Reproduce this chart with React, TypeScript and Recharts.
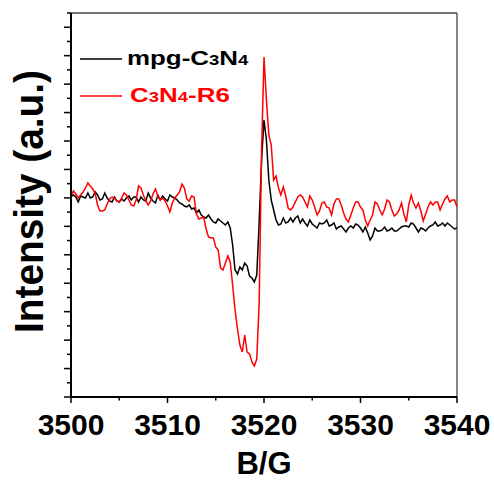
import React from 'react';
import { LineChart, Line, XAxis, YAxis, Legend, ReferenceLine } from 'recharts';

// Magnetic field (G)
const fieldG = [
  3500, 3500.25, 3500.5, 3500.75, 3501, 3501.25, 3501.5, 3501.75, 3502, 3502.25,
  3502.5, 3502.75, 3503, 3503.25, 3503.5, 3503.75, 3504, 3504.25, 3504.5, 3504.75,
  3505, 3505.25, 3505.5, 3505.75, 3506, 3506.25, 3506.5, 3506.75, 3507, 3507.25,
  3507.5, 3507.75, 3508, 3508.25, 3508.5, 3508.75, 3509, 3509.25, 3509.5, 3509.75,
  3510, 3510.25, 3510.5, 3510.75, 3511, 3511.25, 3511.5, 3511.75, 3512, 3512.25,
  3512.5, 3512.75, 3513, 3513.25, 3513.5, 3513.75, 3514, 3514.25, 3514.5, 3514.75,
  3515, 3515.25, 3515.5, 3515.75, 3516, 3516.25, 3516.5, 3516.75, 3517, 3517.25,
  3517.5, 3517.75, 3518, 3518.25, 3518.5, 3518.75, 3519, 3519.25, 3519.5, 3519.75,
  3520, 3520.25, 3520.5, 3520.75, 3521, 3521.25, 3521.5, 3521.75, 3522, 3522.25,
  3522.5, 3522.75, 3523, 3523.25, 3523.5, 3523.75, 3524, 3524.25, 3524.5, 3524.75,
  3525, 3525.25, 3525.5, 3525.75, 3526, 3526.25, 3526.5, 3526.75, 3527, 3527.25,
  3527.5, 3527.75, 3528, 3528.25, 3528.5, 3528.75, 3529, 3529.25, 3529.5, 3529.75,
  3530, 3530.25, 3530.5, 3530.75, 3531, 3531.25, 3531.5, 3531.75, 3532, 3532.25,
  3532.5, 3532.75, 3533, 3533.25, 3533.5, 3533.75, 3534, 3534.25, 3534.5, 3534.75,
  3535, 3535.25, 3535.5, 3535.75, 3536, 3536.25, 3536.5, 3536.75, 3537, 3537.25,
  3537.5, 3537.75, 3538, 3538.25, 3538.5, 3538.75, 3539, 3539.25, 3539.5, 3539.75,
  3540,
];

// mpg-C3N4 intensity (a.u.)
const mpgC3N4 = [
  0, 2, 0, -5, 1, 0, -1, 4, -1, 0,
  5, 2, -3, -2, 4, -1, -4, -5, 0, -4,
  -5, -2, -4, -1, 1, -3, 0, 0, -5, 0,
  -3, -4, 4, -1, -4, -6, 2, -3, 1, -2,
  -4, 2, 0, -1, -3, -6, -7, -9, -10, -8,
  -12, -11, -16, -13, -18, -20, -21, -18, -22, -25,
  -26, -22, -24, -26, -28, -25, -31, -48, -73, -77,
  -70, -73, -66, -69, -79, -81, -85, -78, -25, 37,
  77, 57, 17, -3, -13, -23, -28, -27, -21, -26,
  -25, -21, -25, -21, -19, -26, -22, -26, -29, -23,
  -27, -29, -31, -26, -27, -26, -23, -29, -28, -26,
  -32, -30, -29, -32, -35, -31, -29, -31, -27, -28,
  -31, -35, -30, -36, -43, -39, -31, -34, -34, -33,
  -30, -34, -33, -31, -34, -34, -32, -30, -29, -29,
  -30, -26, -27, -31, -35, -31, -32, -34, -31, -29,
  -28, -25, -29, -28, -26, -29, -26, -28, -30, -32,
  -31,
];

// C3N4-R6 intensity (a.u.)
const c3n4R6 = [
  0, 6, 3, -1, 2, 5, 9, 14, 11, 8,
  4, -8, -14, -14, -13, -7, -2, 0, -1, -4,
  -5, -1, 4, 2, -3, -8, -9, -3, 11, 9,
  2, -4, -8, -4, 3, 8, 1, -3, -1, -4,
  -9, -15, -6, -1, 2, 5, 13, 9, -2, -4,
  1, 0, -17, -22, -21, -20, -32, -40, -41, -41,
  -50, -53, -71, -73, -66, -59, -65, -88, -113, -132,
  -148, -155, -138, -155, -157, -165, -169, -162, -105, 47,
  140, 97, 62, 52, 17, 21, 9, 2, 10, 1,
  -11, -13, -10, -5, 0, 2, 0, -5, -10, 1,
  -3, -10, -18, -14, -6, -5, -10, -11, -18, -7,
  -2, -2, -8, -16, -22, -25, -18, -11, -5, -5,
  -10, -13, -23, -29, -23, -18, -5, -7, -13, -18,
  -12, -3, -5, -13, -19, -17, -13, -6, -17, -25,
  -8, 2, -6, -11, -6, -14, -24, -17, -10, -5,
  -8, -5, -5, -13, -7, -2, 1, -5, -3, -3,
  -10,
];

const xTicks = [3500, 3505, 3510, 3515, 3520, 3525, 3530, 3535, 3540];
const xMajorTicks = [3500, 3510, 3520, 3530, 3540];
const yMin = -200;
const yMax = 184;
const yTickIntervals = 27;
const yTicks = Array.from({ length: yTickIntervals + 1 }, (_, k) => yMin + (k * (yMax - yMin)) / yTickIntervals);

const seriesNames = ['mpg-C3N4', 'C3N4-R6'];

const data = fieldG.map((b, i) => ({ B: b, mpg: mpgC3N4[i], r6: c3n4R6[i] }));

const FONT = '"Liberation Sans", Arial, Helvetica, sans-serif';

const XTick = (props: any) => {
  const { x, y, payload } = props;
  const major = xMajorTicks.includes(payload.value);
  return (
    <g>
      <line x1={x} x2={x} y1={y} y2={y + (major ? 6 : 3.5)} stroke="#000" strokeWidth={1.5} />
      {major && (
        <text x={x} y={y + 38} textAnchor="middle" fontFamily={FONT} fontWeight="bold" fontSize={30} fill="#000">
          {payload.value}
        </text>
      )}
    </g>
  );
};

const YTick = (props: any) => {
  const { x, y, payload } = props;
  const k = Math.round(((payload.value - yMin) * yTickIntervals) / (yMax - yMin));
  const major = k % 2 === 0;
  return <line x1={x} x2={x - (major ? 7 : 4)} y1={y} y2={y} stroke="#000" strokeWidth={1.5} />;
};

const XLabel = (props: any) => {
  const vb = props.viewBox || { x: 71, y: 397, width: 386, height: 70 };
  const cx = vb.x + vb.width / 2;
  return (
    <text x={cx} y={vb.y + 77} textAnchor="middle" fontFamily={FONT} fontWeight="bold" fontSize={31} fill="#000">
      B/G
    </text>
  );
};

const YLabel = (props: any) => {
  const vb = props.viewBox || { x: 11, y: 13, width: 60, height: 384 };
  const cx = vb.x + vb.width - 28;
  const cy = vb.y + vb.height / 2 - 3.5;
  return (
    <text
      x={cx}
      y={cy}
      transform={`rotate(-90, ${cx}, ${cy})`}
      textAnchor="middle"
      fontFamily={FONT}
      fontWeight="bold"
      fontSize={40}
      textLength={263}
      lengthAdjust="spacingAndGlyphs"
      fill="#000"
    >
      Intensity (a.u.)
    </text>
  );
};

const renderLegend = () => (
  <svg width={494} height={120} style={{ display: 'block' }}>
    <line x1={80} x2={122} y1={59} y2={59} stroke="#000" strokeWidth={1.5} />
    <g transform="translate(127,65) scale(1.235,1)">
      <text fontFamily={FONT} fontWeight="bold" fontSize={21} fill="#000">
        mpg-C<tspan fontSize={15}>3</tspan>N<tspan fontSize={15}>4</tspan>
      </text>
    </g>
    <line x1={80} x2={122} y1={96} y2={96} stroke="#ff0000" strokeWidth={1.5} />
    <g transform="translate(130,102) scale(1.235,1)">
      <text fontFamily={FONT} fontWeight="bold" fontSize={21} fill="#ff0000">
        C<tspan fontSize={15}>3</tspan>N<tspan fontSize={15}>4</tspan>-R6
      </text>
    </g>
  </svg>
);

export default function App() {
  return (
    <div style={{ position: 'absolute', left: 0, top: 0, width: 494, height: 481, background: '#fff' }}>
      <LineChart width={494} height={481} data={data} margin={{ top: 13, right: 37, bottom: 14, left: 11 }}>
        <XAxis
          xAxisId="main"
          dataKey="B"
          type="number"
          domain={[3500, 3540]}
          ticks={xTicks}
          interval={0}
          allowDataOverflow
          height={70}
          tickSize={0}
          tickMargin={0}
          tickLine={false}
          tick={XTick}
          axisLine={{ stroke: '#000', strokeWidth: 2 }}
          label={{ content: XLabel }}
        />
        <YAxis
          yAxisId="main"
          type="number"
          domain={[yMin, yMax]}
          ticks={yTicks}
          interval={0}
          allowDataOverflow
          width={60}
          tickSize={0}
          tickMargin={0}
          tickLine={false}
          tick={YTick}
          axisLine={{ stroke: '#000', strokeWidth: 2 }}
          label={{ content: YLabel }}
        />
        <ReferenceLine xAxisId="main" yAxisId="main" y={yMax} stroke="#444" strokeWidth={1.3} ifOverflow="visible" />
        <ReferenceLine xAxisId="main" yAxisId="main" x={3540} stroke="#444" strokeWidth={1.3} ifOverflow="visible" />
        <Line
          xAxisId="main"
          yAxisId="main"
          type="linear"
          dataKey="mpg"
          name={seriesNames[0]}
          stroke="#000"
          strokeWidth={1.5}
          dot={false}
          isAnimationActive={false}
        />
        <Line
          xAxisId="main"
          yAxisId="main"
          type="linear"
          dataKey="r6"
          name={seriesNames[1]}
          stroke="#ff0000"
          strokeWidth={1.5}
          dot={false}
          isAnimationActive={false}
        />
        <Legend
          layout="vertical"
          align="center"
          verticalAlign="middle"
          content={renderLegend}
          wrapperStyle={{ left: 0, top: 0, width: 494, height: 120, pointerEvents: 'none' }}
        />
      </LineChart>
    </div>
  );
}
